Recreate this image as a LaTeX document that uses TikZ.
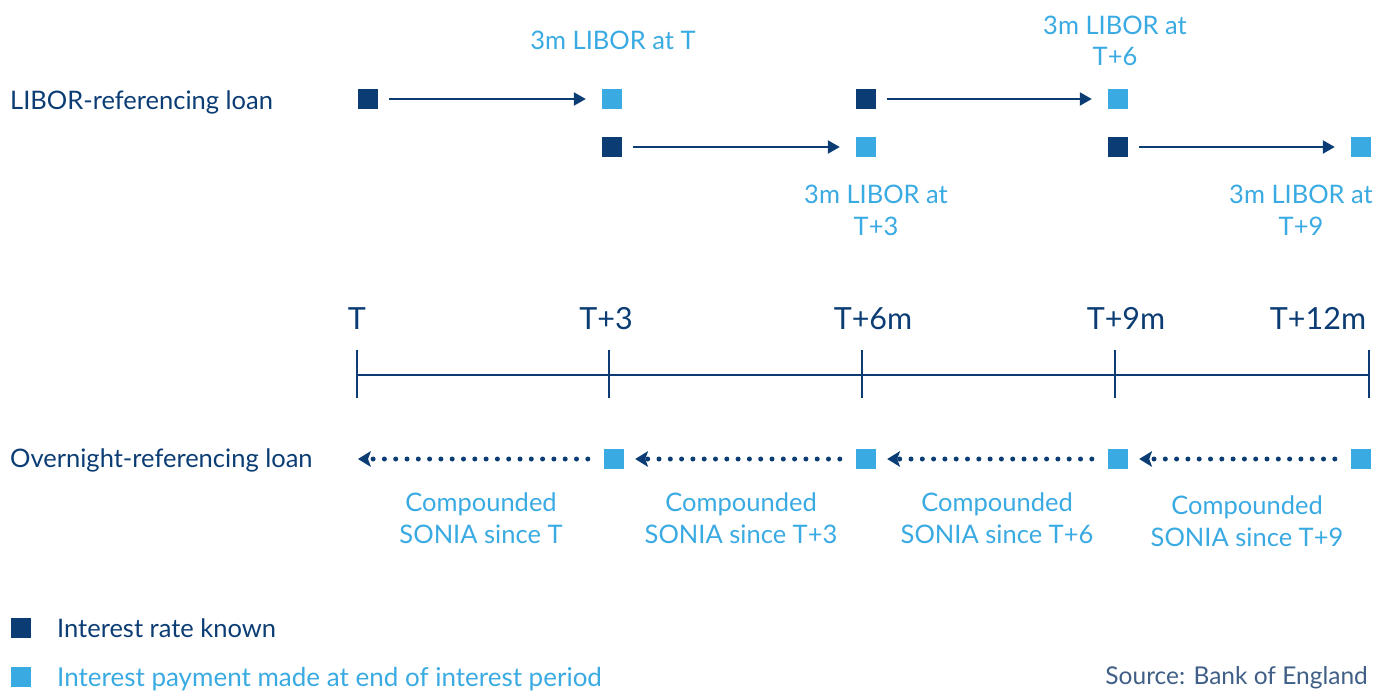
\documentclass[tikz,border=0pt]{standalone}
\usepackage{fontspec}
\setmainfont{Lato}
\usetikzlibrary{arrows.meta}
\definecolor{dkblue}{HTML}{0B3D74}
\definecolor{ltblue}{HTML}{3AAAE2}
\definecolor{srcgray}{HTML}{3F5F86}
\tikzset{
  x=1pt, y=-1pt,
  dsq/.style={fill=dkblue, draw=none, minimum size=20pt, inner sep=0pt},
  lsq/.style={fill=ltblue, draw=none, minimum size=20pt, inner sep=0pt},
  arr/.style={draw=dkblue, line width=2.2pt, -{Triangle[length=12pt,width=13pt]}},
  dotarr/.style={draw=dkblue, line width=5pt, line cap=round, dash pattern=on 0pt off 11.3pt, -{Stealth[length=13pt,width=16pt,inset=3pt,line width=0pt]}},
  axis/.style={draw=dkblue, line width=2pt},
  lbl/.style={inner sep=0pt, text=dkblue, font=\fontsize{25.5}{32}\selectfont},
  rlbl/.style={inner sep=0pt, text=ltblue, font=\fontsize{25.5}{32}\selectfont, align=center},
  tlbl/.style={inner sep=0pt, text=dkblue, font=\fontsize{30.5}{32}\selectfont, anchor=base},
}
\begin{document}
\begin{tikzpicture}
\useasboundingbox (0,0) rectangle (1375,693);
% row labels
\node[lbl, anchor=base west] (libor) at (10,109) {LIBOR-referencing loan};
\node[lbl, anchor=base west] (overnight) at (10,467) {Overnight-referencing loan};
% LIBOR squares
\node[dsq] (d1) at (368,99) {};
\node[lsq] (l1) at (612,99) {};
\node[dsq] (d2) at (612,147) {};
\node[lsq] (l2) at (866,147) {};
\node[dsq] (d3) at (866,99) {};
\node[lsq] (l3) at (1118,99) {};
\node[dsq] (d4) at (1118,147) {};
\node[lsq] (l4) at (1361,147) {};
\draw[arr, shorten <=11pt, shorten >=16pt] (d1) -- (l1);
\draw[arr, shorten <=11pt, shorten >=16pt] (d2) -- (l2);
\draw[arr, shorten <=11pt, shorten >=16pt] (d3) -- (l3);
\draw[arr, shorten <=11pt, shorten >=16pt] (d4) -- (l4);
% LIBOR rate labels (base anchor = last line)
\node[rlbl, anchor=base] (r1) at (613,50) {3m LIBOR at T};
\node[rlbl, anchor=base] (r2) at (1115,66) {3m LIBOR at\\T+6};
\node[rlbl, anchor=base] (r3) at (876,235) {3m LIBOR at\\T+3};
\node[rlbl, anchor=base] (r4) at (1301,235) {3m LIBOR at\\T+9};
% timeline
\coordinate (a0) at (357,375);
\coordinate (a4) at (1369,375);
\draw[axis] (a0) -- (a4);
\foreach \x/\n in {357/0,609/1,862/2,1115/3,1369/4} {
  \coordinate (tt\n) at (\x,350);
  \coordinate (tb\n) at (\x,398);
  \draw[axis] (tt\n) -- (tb\n);
}
\node[tlbl] (t0) at (357,329) {T};
\node[tlbl] (t1) at (606,329) {T+3};
\node[tlbl] (t2) at (873,329) {T+6m};
\node[tlbl] (t3) at (1126,329) {T+9m};
\node[tlbl] (t4) at (1318,329) {T+12m};
% overnight squares
\coordinate (o0) at (358,459);
\node[lsq] (o1) at (614,459) {};
\node[lsq] (o2) at (866,459) {};
\node[lsq] (o3) at (1118,459) {};
\node[lsq] (o4) at (1361,459) {};
\draw[dotarr, shorten <=16pt] (o1) -- (o0);
\draw[dotarr, shorten <=16pt, shorten >=11pt] (o2) -- (o1);
\draw[dotarr, shorten <=16pt, shorten >=11pt] (o3) -- (o2);
\draw[dotarr, shorten <=16pt, shorten >=11pt] (o4) -- (o3);
% SONIA labels
\node[rlbl, anchor=base] (s1) at (481,543) {Compounded\\SONIA since T};
\node[rlbl, anchor=base] (s2) at (741,543) {Compounded\\SONIA since T+3};
\node[rlbl, anchor=base] (s3) at (997,543) {Compounded\\SONIA since T+6};
\node[rlbl, anchor=base] (s4) at (1247,546) {Compounded\\SONIA since T+9};
% legend
\node[dsq] (k1) at (21,628) {};
\node[lbl, anchor=base west] (k1t) at (57,637) {Interest rate known};
\node[lsq] (k2) at (21,677) {};
\node[lbl, anchor=base west, text=ltblue, font=\fontsize{26}{32}\selectfont] (k2t) at (57,686) {Interest payment made at end of interest period};
\node[lbl, anchor=base east, text=srcgray, font=\fontsize{24.5}{32}\selectfont] (src) at (1368,684) {Source: Bank of England};
\end{tikzpicture}
\end{document}
